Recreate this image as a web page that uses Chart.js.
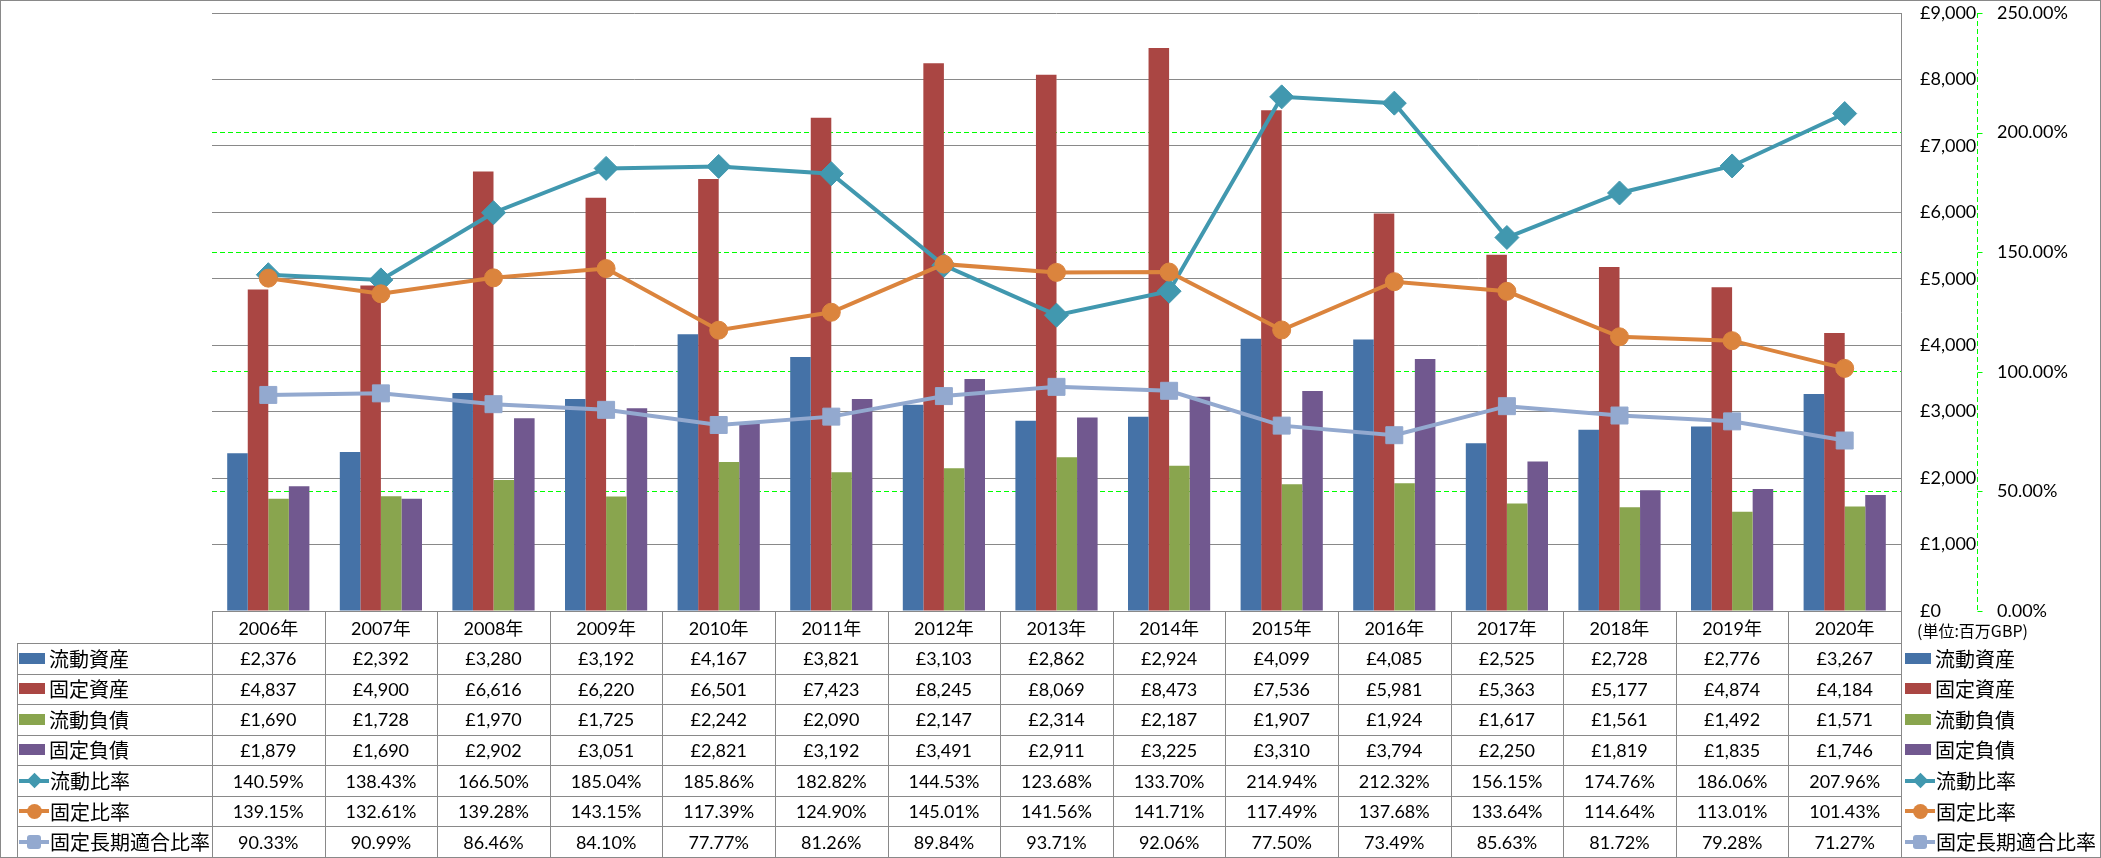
<!DOCTYPE html>
<html>
<head>
<meta charset="utf-8">
<script src="https://cdn.jsdelivr.net/npm/chart.js@4.4.1/dist/chart.umd.min.js"></script>
<style>
html,body{margin:0;padding:0;background:#fff;}
#wrap{position:relative;width:2101px;height:858px;overflow:hidden;background:#fff;font-family:Lato,"Noto Sans CJK JP",sans-serif;color:#000;}
#c{position:absolute;left:0;top:0;width:2101px;height:858px;}
#frame{position:absolute;left:0;top:0;width:2101px;height:858px;box-sizing:border-box;border:1px solid #898989;pointer-events:none;}
.hl{position:absolute;height:1px;background:#898989;}
.vl{position:absolute;width:1px;background:#898989;}
.cell{position:absolute;display:flex;align-items:center;justify-content:center;font-size:18px;white-space:nowrap;font-family:Lato,"Noto Sans CJK JP",sans-serif;}
.lab{position:absolute;display:flex;align-items:center;font-size:20px;white-space:nowrap;font-family:"Noto Sans CJK JP",sans-serif;}
.unit{position:absolute;font-size:16px;white-space:nowrap;font-family:"Noto Sans CJK JP",sans-serif;}
</style>
</head>
<body>
<div id="wrap">
<canvas id="c" width="2101" height="858"></canvas>
<div id="tbl"></div>
<div id="frame"></div>
</div>
<script>
// ---- data ----
const categories = ['2006年','2007年','2008年','2009年','2010年','2011年','2012年','2013年','2014年','2015年','2016年','2017年','2018年','2019年','2020年'];
const currentAssets = [2376,2392,3280,3192,4167,3821,3103,2862,2924,4099,4085,2525,2728,2776,3267];
const fixedAssets = [4837,4900,6616,6220,6501,7423,8245,8069,8473,7536,5981,5363,5177,4874,4184];
const currentLiabilities = [1690,1728,1970,1725,2242,2090,2147,2314,2187,1907,1924,1617,1561,1492,1571];
const fixedLiabilities = [1879,1690,2902,3051,2821,3192,3491,2911,3225,3310,3794,2250,1819,1835,1746];
const currentRatio = [140.59,138.43,166.50,185.04,185.86,182.82,144.53,123.68,133.70,214.94,212.32,156.15,174.76,186.06,207.96];
const fixedRatio = [139.15,132.61,139.28,143.15,117.39,124.90,145.01,141.56,141.71,117.49,137.68,133.64,114.64,113.01,101.43];
const fixedLongTermRatio = [90.33,90.99,86.46,84.10,77.77,81.26,89.84,93.71,92.06,77.50,73.49,85.63,81.72,79.28,71.27];
const seriesNames = ['流動資産','固定資産','流動負債','固定負債','流動比率','固定比率','固定長期適合比率'];
const amountTicks = {min:0, max:9000, step:1000};
const ratioTicks = {min:0, max:250, step:50};
const unitLabel = '(単位:百万GBP)';

// ---- styles ----
const C_BLUE='#4572A7', C_RED='#AA4643', C_GREEN='#89A54E', C_PURPLE='#71588F';
const C_TEAL='#4198AF', C_ORANGE='#DB843D', C_LBLUE='#93A9CF';
const GRID_GRAY='#898989', GRID_GREEN='#00FF00';

function fmtMoney(n){ return '£' + String(n).replace(/\B(?=(\d{3})+(?!\d))/g, ','); }
function fmtPct(v){ return Number(v).toFixed(2) + '%'; }

const barOpts = {categoryPercentage:0.73, barPercentage:1.0, borderWidth:0, yAxisID:'y', type:'bar'};
const datasets = [
  Object.assign({label:seriesNames[0], data:currentAssets, backgroundColor:C_BLUE, order:10}, barOpts),
  Object.assign({label:seriesNames[1], data:fixedAssets, backgroundColor:C_RED, order:11}, barOpts),
  Object.assign({label:seriesNames[2], data:currentLiabilities, backgroundColor:C_GREEN, order:12}, barOpts),
  Object.assign({label:seriesNames[3], data:fixedLiabilities, backgroundColor:C_PURPLE, order:13}, barOpts),
  {type:'line', label:seriesNames[4], data:currentRatio, yAxisID:'y2', borderColor:C_TEAL, backgroundColor:C_TEAL,
   borderWidth:4, pointStyle:'rectRot', pointRadius:12, pointBackgroundColor:C_TEAL, pointBorderColor:C_TEAL, pointBorderWidth:1, tension:0, order:3},
  {type:'line', label:seriesNames[5], data:fixedRatio, yAxisID:'y2', borderColor:C_ORANGE, backgroundColor:C_ORANGE,
   borderWidth:4, pointStyle:'circle', pointRadius:9, pointBackgroundColor:C_ORANGE, pointBorderColor:C_ORANGE, pointBorderWidth:1, tension:0, order:2},
  {type:'line', label:seriesNames[6], data:fixedLongTermRatio, yAxisID:'y2', borderColor:C_LBLUE, backgroundColor:C_LBLUE,
   borderWidth:4, pointStyle:'rect', pointRadius:12, pointBackgroundColor:C_LBLUE, pointBorderColor:C_LBLUE, pointBorderWidth:1, tension:0, order:1}
];

// dashed secondary axis line with short outside tick marks (Excel style)
const y2AxisLine = {
  id:'y2AxisLine',
  afterDraw(chart){
    const s = chart.scales.y2; const ctx = chart.ctx;
    const x = Math.round(s.left) + 0.5;
    ctx.save();
    ctx.strokeStyle = GRID_GREEN; ctx.lineWidth = 1; ctx.setLineDash([5,3]);
    ctx.beginPath(); ctx.moveTo(x, s.top); ctx.lineTo(x, s.bottom); ctx.stroke();
    ctx.setLineDash([]);
    s.ticks.forEach(t=>{
      const y = Math.round(s.getPixelForValue(t.value)) + 0.5;
      ctx.beginPath(); ctx.moveTo(x, y); ctx.lineTo(x + 5, y); ctx.stroke();
    });
    ctx.restore();
  }
};

Chart.defaults.font.family = 'Lato, "Noto Sans CJK JP", sans-serif';
Chart.defaults.color = '#000';

const chart = new Chart(document.getElementById('c'), {
  type:'bar',
  data:{labels:categories, datasets:datasets},
  options:{
    responsive:false, animation:false, devicePixelRatio:1,
    layout:{padding:{left:212, top:13, right:1, bottom:247}},
    plugins:{legend:{display:false}, tooltip:{enabled:false}},
    scales:{
      x:{type:'category', display:false, offset:true, grid:{display:false}},
      y:{position:'right', min:amountTicks.min, max:amountTicks.max,
         ticks:{stepSize:amountTicks.step, padding:0, font:{size:18}, color:'#000', callback:v=>fmtMoney(v)},
         grid:{color:GRID_GRAY, lineWidth:1, drawTicks:true, tickLength:19, tickColor:'rgba(0,0,0,0)'},
         border:{display:true, color:GRID_GRAY, width:1},
         afterFit:s=>{s.width = 76;}},
      y2:{position:'right', min:ratioTicks.min, max:ratioTicks.max,
         ticks:{stepSize:ratioTicks.step, padding:0, font:{size:18}, color:'#000', callback:v=>fmtPct(v)},
         grid:{color:c=>(c.tick && (c.tick.value===ratioTicks.min || c.tick.value===ratioTicks.max)) ? 'rgba(0,0,0,0)' : GRID_GREEN,
               lineWidth:1, drawTicks:true, tickLength:20, tickColor:'rgba(0,0,0,0)'},
         border:{display:false, dash:[5,3]},
         afterFit:s=>{s.width = 123;}}
    }
  },
  plugins:[y2AxisLine]
});

// keep the plot area where the reference has it
(function fitArea(){
  const a = chart.chartArea, p = chart.options.layout.padding;
  const dTop = a.top - 13, dBottom = a.bottom - 611, dRight = a.right - 1901;
  if (Math.abs(dTop) > 0.5 || Math.abs(dBottom) > 0.5 || Math.abs(dRight) > 0.5) {
    p.top = Math.max(0, p.top - dTop);
    p.bottom = p.bottom + dBottom;
    p.right = Math.max(0, p.right + dRight);
    chart.update();
  }
})();

// ---- data table below the chart, aligned with the x scale ----
(function buildTable(){
  const tbl = document.getElementById('tbl');
  const area = chart.chartArea;
  const xs = chart.scales.x;
  const n = categories.length;
  const colW = (area.right - area.left) / n;
  const headTop = Math.round(area.bottom);
  const headH = 32;
  const rowTop0 = headTop + headH;
  const bottom = 857;
  const rows = [
    {name:seriesNames[0], vals:currentAssets, fmt:fmtMoney, key:{type:'bar', color:C_BLUE}},
    {name:seriesNames[1], vals:fixedAssets, fmt:fmtMoney, key:{type:'bar', color:C_RED}},
    {name:seriesNames[2], vals:currentLiabilities, fmt:fmtMoney, key:{type:'bar', color:C_GREEN}},
    {name:seriesNames[3], vals:fixedLiabilities, fmt:fmtMoney, key:{type:'bar', color:C_PURPLE}},
    {name:seriesNames[4], vals:currentRatio, fmt:fmtPct, key:{type:'diamond', color:C_TEAL}},
    {name:seriesNames[5], vals:fixedRatio, fmt:fmtPct, key:{type:'circle', color:C_ORANGE}},
    {name:seriesNames[6], vals:fixedLongTermRatio, fmt:fmtPct, key:{type:'square', color:C_LBLUE}}
  ];
  const rowH = (bottom - rowTop0) / rows.length;
  const labelLeft = 17;
  const right = Math.round(area.right);
  let html = '';
  const hline = (x1,x2,y)=>{ html += `<div class="hl" style="left:${x1}px;top:${Math.round(y)}px;width:${x2-x1+1}px"></div>`; };
  const vline = (x,y1,y2)=>{ html += `<div class="vl" style="left:${Math.round(x)}px;top:${Math.round(y1)}px;height:${Math.round(y2-y1)+1}px"></div>`; };
  function keyHTML(k){
    if(k.type==='bar') return `<span style="display:inline-block;width:26px;min-width:26px;height:11px;background:${k.color};margin-right:4px;flex:none"></span>`;
    let m = '';
    if(k.type==='diamond') m = `<span style="position:absolute;left:9.5px;top:4.5px;width:11px;height:11px;background:${k.color};transform:rotate(45deg)"></span>`;
    if(k.type==='circle') m = `<span style="position:absolute;left:7.5px;top:2.5px;width:15px;height:15px;background:${k.color};border-radius:50%"></span>`;
    if(k.type==='square') m = `<span style="position:absolute;left:8px;top:3px;width:14px;height:14px;background:${k.color};border-radius:3px"></span>`;
    return `<span style="position:relative;display:inline-block;width:30px;min-width:30px;height:20px;margin-right:1px;flex:none"><span style="position:absolute;left:0;width:30px;top:8px;height:4px;background:${k.color}"></span>${m}</span>`;
  }
  // header row
  hline(Math.round(area.left), right, headTop);
  for(let i=0;i<n;i++){
    const cx = xs.getPixelForValue(i);
    html += `<div class="cell" style="left:${cx-colW/2}px;top:${headTop}px;width:${colW}px;height:${headH}px">${categories[i]}</div>`;
  }
  // body rows
  for(let r=0;r<=rows.length;r++) hline(labelLeft, right, rowTop0 + r*rowH);
  vline(labelLeft, rowTop0, bottom);
  for(let j=0;j<=n;j++) vline(area.left + j*colW, headTop, bottom);
  rows.forEach((row, r)=>{
    const top = rowTop0 + r*rowH;
    html += `<div class="lab" style="left:${labelLeft+2}px;top:${top}px;height:${rowH}px">${keyHTML(row.key)}<span>${row.name}</span></div>`;
    for(let i=0;i<n;i++){
      const cx = xs.getPixelForValue(i);
      html += `<div class="cell" style="left:${cx-colW/2}px;top:${top}px;width:${colW}px;height:${rowH}px">${row.fmt(row.vals[i])}</div>`;
    }
    html += `<div class="lab" style="left:${right+4}px;top:${top}px;height:${rowH}px;width:195px">${keyHTML(row.key)}<span>${row.name}</span></div>`;
  });
  html += `<div class="unit" style="left:${right+16}px;top:${headTop+9}px;line-height:20px">${unitLabel}</div>`;
  tbl.innerHTML = html;
})();
</script>
</body>
</html>
